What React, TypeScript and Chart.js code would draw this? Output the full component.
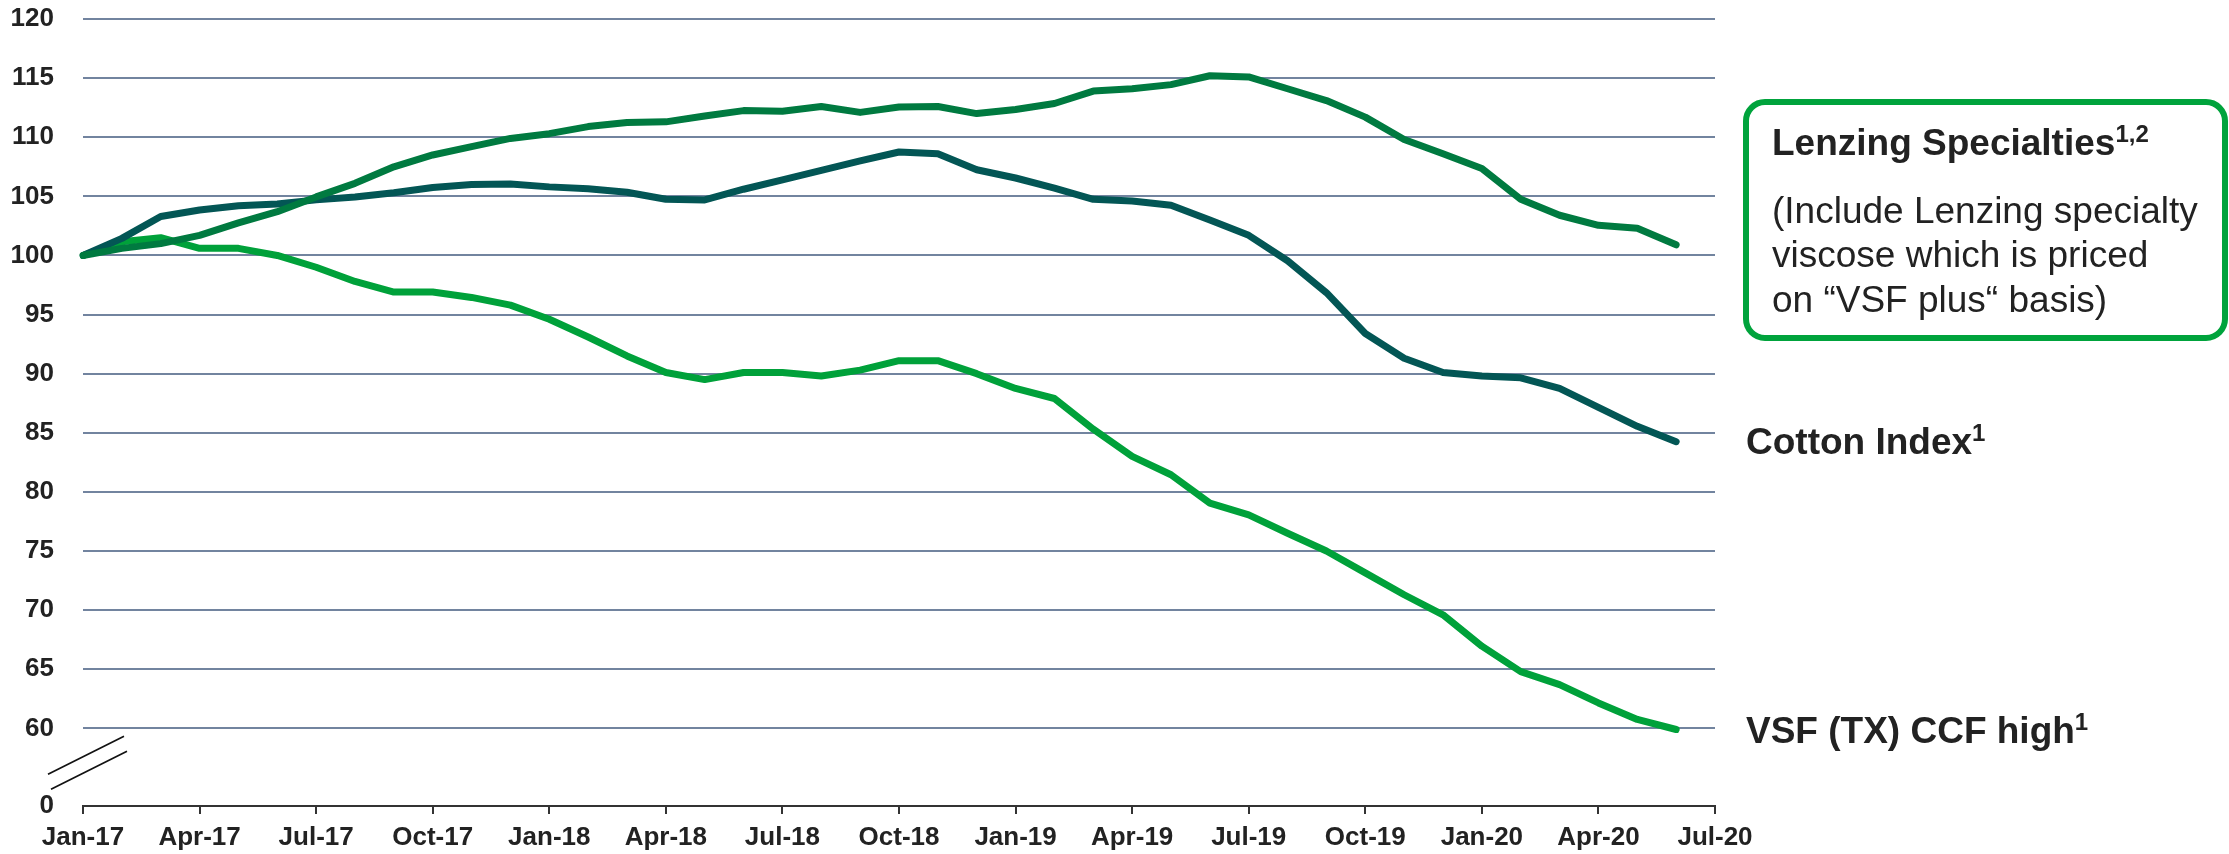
import React, { useEffect, useRef } from "react";
import { Chart, registerables } from "chart.js";

Chart.register(...registerables);

// ---------- data ----------
const months = [
  "Jan-17", "Feb-17", "Mar-17", "Apr-17", "May-17", "Jun-17", "Jul-17", "Aug-17", "Sep-17", "Oct-17", "Nov-17", "Dec-17",
  "Jan-18", "Feb-18", "Mar-18", "Apr-18", "May-18", "Jun-18", "Jul-18", "Aug-18", "Sep-18", "Oct-18", "Nov-18", "Dec-18",
  "Jan-19", "Feb-19", "Mar-19", "Apr-19", "May-19", "Jun-19", "Jul-19", "Aug-19", "Sep-19", "Oct-19", "Nov-19", "Dec-19",
  "Jan-20", "Feb-20", "Mar-20", "Apr-20", "May-20", "Jun-20", "Jul-20",
];

const lenzingSpecialties = [
  100, 100.6, 101.0, 101.7, 102.75, 103.7, 104.95, 106.1, 107.5, 108.5, 109.2, 109.9,
  110.3, 110.9, 111.25, 111.3, 111.8, 112.25, 112.2, 112.6, 112.1, 112.55, 112.6, 112.0,
  112.35, 112.85, 113.9, 114.1, 114.45, 115.2, 115.1, 114.1, 113.1, 111.7, 109.8, 108.6,
  107.35, 104.75, 103.4, 102.55, 102.3, 100.9,
];

const cottonIndex = [
  100, 101.44, 103.3, 103.85, 104.2, 104.35, 104.7, 104.95, 105.3, 105.75, 106.0, 106.05,
  105.8, 105.65, 105.35, 104.75, 104.7, 105.6, 106.4, 107.2, 108.0, 108.75, 108.6, 107.25,
  106.55, 105.7, 104.75, 104.6, 104.25, 103.0, 101.7, 99.55, 96.85, 93.4, 91.3, 90.1,
  89.8, 89.65, 88.75, 87.15, 85.55, 84.25,
];

const vsfCcfHigh = [
  100, 101.15, 101.5, 100.6, 100.6, 100.0, 99.0, 97.8, 96.9, 96.9, 96.45, 95.8,
  94.6, 93.1, 91.5, 90.1, 89.5, 90.1, 90.1, 89.8, 90.3, 91.1, 91.1, 90.0,
  88.75, 87.9, 85.3, 83.0, 81.45, 79.05, 78.05, 76.5, 75.0, 73.15, 71.3, 69.6,
  66.95, 64.8, 63.7, 62.15, 60.75, 59.9,
];

const yTickValues = [60, 65, 70, 75, 80, 85, 90, 95, 100, 105, 110, 115, 120];
const yZeroLabel = "0";
const Y_BREAK_MIN = 53.43; // bottom of broken axis, labelled "0"
const Y_MAX = 120;

// ---------- styles ----------
const W = 2229;
const H = 854;
const AREA = { left: 83, right: 1715, top: 19, bottom: 806 };
const FONT = "'Liberation Sans', Arial, sans-serif";
const TEXT = "#222222";
const GRID = "#72849f";

const breakMarkPlugin = {
  id: "breakMark",
  afterDraw(chart: any) {
    const { ctx, chartArea } = chart;
    const y = chart.scales.y.getPixelForValue(60);
    const x = chartArea.left;
    ctx.save();
    ctx.strokeStyle = "#111";
    ctx.lineWidth = 1.7;
    ctx.beginPath();
    ctx.moveTo(x - 35, y + 46);
    ctx.lineTo(x + 41, y + 8);
    ctx.moveTo(x - 32, y + 61);
    ctx.lineTo(x + 44, y + 23);
    ctx.stroke();
    ctx.restore();
  },
};

function LineChart() {
  const ref = useRef<HTMLCanvasElement | null>(null);
  useEffect(() => {
    if (!ref.current) return;
    const chart = new Chart(ref.current, {
      type: "line",
      data: {
        labels: months,
        datasets: [
          { label: "Lenzing Specialties", data: lenzingSpecialties, borderColor: "#007a40" },
          { label: "Cotton Index", data: cottonIndex, borderColor: "#035655" },
          { label: "VSF (TX) CCF high", data: vsfCcfHigh, borderColor: "#00a13a" },
        ].map((d) => ({
          ...d,
          borderWidth: 7,
          pointRadius: 0,
          tension: 0,
          fill: false,
          borderCapStyle: "round" as const,
          borderJoinStyle: "round" as const,
        })),
      },
      options: {
        responsive: false,
        animation: false,
        devicePixelRatio: 1,
        layout: { autoPadding: false, padding: { left: 0, top: AREA.top, right: W - AREA.right, bottom: 0 } },
        plugins: { legend: { display: false }, tooltip: { enabled: false } },
        scales: {
          x: {
            type: "category",
            offset: false,
            grid: {
              drawOnChartArea: false,
              drawTicks: true,
              tickLength: 8,
              lineWidth: 2,
              color: (c: any) => (c.index % 3 === 0 ? "#333" : "rgba(0,0,0,0)"),
            },
            border: { display: true, color: "#333", width: 2 },
            ticks: {
              autoSkip: false,
              maxRotation: 0,
              minRotation: 0,
              padding: 8,
              color: TEXT,
              font: { family: FONT, size: 26, weight: "bold" },
              callback: (_v: any, i: number) => (i % 3 === 0 ? months[i] : ""),
            },
            afterFit: (s: any) => {
              s.height = H - AREA.bottom;
              s.paddingLeft = 0;
              s.paddingRight = 0;
            },
          },
          y: {
            type: "linear",
            min: Y_BREAK_MIN,
            max: Y_MAX,
            afterBuildTicks: (s: any) => {
              s.ticks = [Y_BREAK_MIN, ...yTickValues].map((v) => ({ value: v }));
            },
            grid: {
              drawTicks: false,
              lineWidth: 2,
              color: (c: any) => (c.tick && c.tick.value === Y_BREAK_MIN ? "rgba(0,0,0,0)" : GRID),
            },
            border: { display: false },
            ticks: {
              padding: 29,
              color: TEXT,
              font: { family: FONT, size: 26, weight: "bold" },
              callback: (v: any) => (v === Y_BREAK_MIN ? yZeroLabel : String(v)),
            },
            afterFit: (s: any) => {
              s.width = AREA.left;
              s.paddingTop = 0;
              s.paddingBottom = 0;
            },
          },
        },
      },
      plugins: [breakMarkPlugin],
    });
    return () => chart.destroy();
  }, []);
  return <canvas ref={ref} width={W} height={H} style={{ width: W, height: H, display: "block" }} />;
}

const sup: React.CSSProperties = { fontSize: 24, position: "relative", top: -13, verticalAlign: "baseline" };

function Label({ left, baseline, bold, children }: { left: number; baseline: number; bold?: boolean; children: React.ReactNode }) {
  const lh = 44;
  const top = baseline - (lh / 2 + 37 * 0.345);
  return (
    <div
      style={{
        position: "absolute",
        left,
        top,
        lineHeight: `${lh}px`,
        fontFamily: FONT,
        fontSize: 37,
        fontWeight: bold ? 700 : 400,
        color: TEXT,
        whiteSpace: "nowrap",
      }}
    >
      {children}
    </div>
  );
}

export default function App() {
  return (
    <div style={{ position: "absolute", left: 0, top: 0, width: W, height: H, background: "#fff", overflow: "hidden" }}>
      <LineChart />
      <div
        style={{
          position: "absolute",
          left: 1743,
          top: 99,
          width: 2228 - 1743,
          height: 341 - 99,
          boxSizing: "border-box",
          border: "6px solid #00a33c",
          borderRadius: 22,
        }}
      />
      <Label left={1772} baseline={156} bold>
        Lenzing Specialties<span style={sup}>1,2</span>
      </Label>
      <Label left={1772} baseline={224}>(Include Lenzing specialty</Label>
      <Label left={1772} baseline={268}>viscose which is priced</Label>
      <Label left={1772} baseline={313}>on “VSF plus“ basis)</Label>
      <Label left={1746} baseline={455} bold>
        Cotton Index<span style={sup}>1</span>
      </Label>
      <Label left={1746} baseline={744} bold>
        VSF (TX) CCF high<span style={sup}>1</span>
      </Label>
    </div>
  );
}
